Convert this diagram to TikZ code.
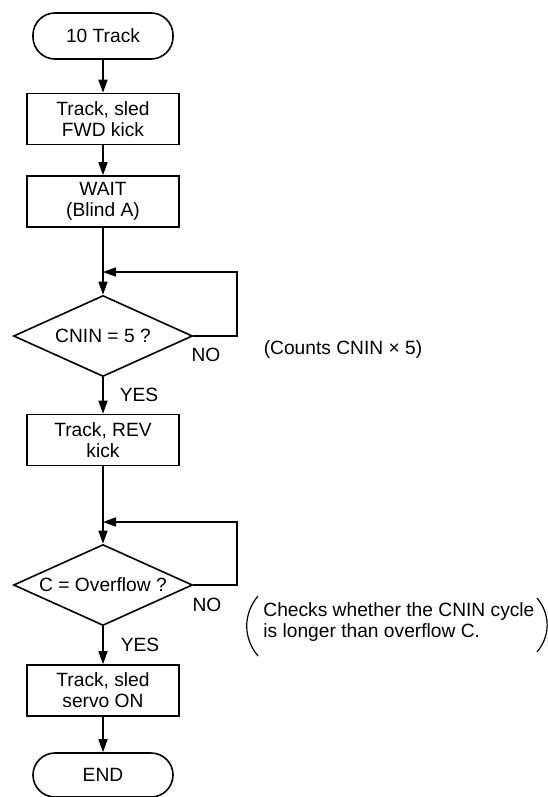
\documentclass[tikz,border=0pt]{standalone}
\usepackage{fontspec}
\setmainfont{Liberation Sans}
\usepackage{tikz}
\usetikzlibrary{positioning,arrows.meta,shapes.geometric}
\tikzset{
  flow/.style={-{Triangle[length=6.5pt,width=4.5pt]},line width=0.8pt},
  term/.style={draw,rectangle,rounded corners=11pt,minimum width=70pt,minimum height=23pt,line width=0.8pt},
  proc/.style={draw,rectangle,align=center,minimum width=76pt,minimum height=25.5pt,inner sep=1pt,line width=0.8pt},
  dec/.style={draw,diamond,aspect=2.2,inner sep=0pt,minimum width=89.5pt,minimum height=40.5pt,line width=0.8pt},
  lbl/.style={inner sep=0pt},
  % ---- side notes ----
  cmt/.style={inner sep=0pt,align=left},
  brk/.style={line width=0.6pt},
}

\begin{document}
\begin{tikzpicture}[x=0.5pt,y=-0.5pt,font=\fontsize{9.6}{10.5}\selectfont]
  \useasboundingbox (0,0) rectangle (547,797);
  % main column
  \node[term] (start) at (103,36) {10 Track};
  \node[proc] (fwd) at (103,119) {Track, sled\\FWD kick};
  \node[proc] (wait) at (103,201.5) {WAIT\\(Blind A)};
  \node[dec] (cnin) at (103,336) {CNIN = 5 ?};
  \node[proc] (rev) at (103,440) {Track, REV\\kick};
  \node[dec] (ovf) at (103,585) {C = Overflow ?};
  \node[proc] (servo) at (103,690.5) {Track, sled\\servo ON};
  \node[term,minimum height=22pt] (stop) at (103,775) {END};
  % loop points
  \coordinate (m1) at (103,272);
  \coordinate (c1) at (237,272);
  \coordinate (m2) at (103,522);
  \coordinate (c2) at (237,522);
  % straight flow
  \draw[flow] (start) -- (fwd);
  \draw[flow] (fwd) -- (wait);
  \draw[flow] (wait) -- (cnin);
  \draw[flow] (cnin) -- (rev);
  \draw[flow] (rev) -- (ovf);
  \draw[flow] (ovf) -- (servo);
  \draw[flow] (servo) -- (stop);
  % NO branches
  \draw[flow] (cnin.east) -| (c1) -- (m1);
  \draw[flow] (ovf.east) -| (c2) -- (m2);
  % labels
  \node[lbl] (no1) at (206,355) {NO};
  \node[lbl] (yes1) at (139,395) {YES};
  \node[lbl] (no2) at (207,605) {NO};
  \node[lbl] (yes2) at (140,645) {YES};
  \node[lbl] (cnt) at (343,350) {(Counts CNIN × 5)};
  \node[cmt,anchor=west] (chk) at (263,622.5) {Checks whether the CNIN cycle\\is longer than overflow C.};
  % brackets round the note
  \coordinate (pl1) at (258,596);
  \coordinate (pl2) at (258,656);
  \coordinate (pr1) at (537,598);
  \coordinate (pr2) at (537,652);
  \draw[brk] (pl1) to[bend right=40] (pl2);
  \draw[brk] (pr1) to[bend left=40] (pr2);
\end{tikzpicture}
\end{document}
